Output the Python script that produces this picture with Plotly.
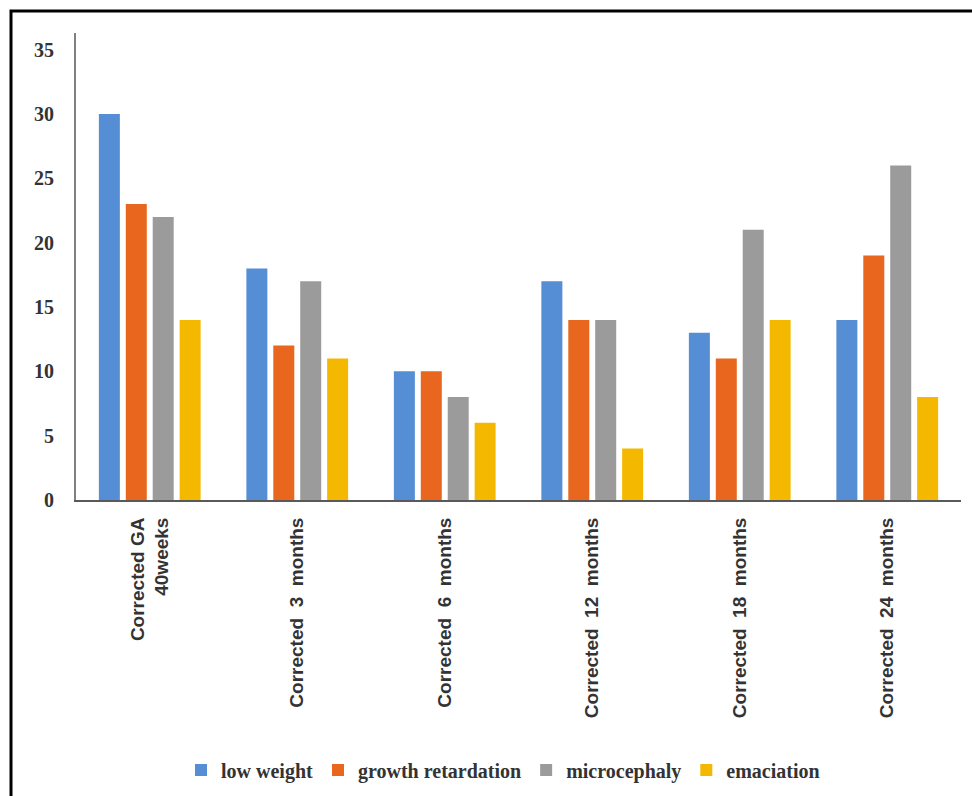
import plotly.graph_objects as go

# Follow-up time points (x categories)
categories = [
    "Corrected GA<br>40weeks",
    "Corrected  3  months",
    "Corrected  6  months",
    "Corrected  12  months",
    "Corrected  18  months",
    "Corrected  24  months",
]

# Counts per outcome at each time point
low_weight = [30, 18, 10, 17, 13, 14]
growth_retardation = [23, 12, 10, 14, 11, 19]
microcephaly = [22, 17, 8, 14, 21, 26]
emaciation = [14, 11, 6, 4, 14, 8]

series_names = ["low weight", "growth retardation", "microcephaly", "emaciation"]
series_values = [low_weight, growth_retardation, microcephaly, emaciation]
colors = ["#558ED5", "#E8661E", "#9B9B9B", "#F5B800"]

y_ticks = [0, 5, 10, 15, 20, 25, 30, 35]

fig = go.Figure()
for name, vals, col in zip(series_names, series_values, colors):
    fig.add_trace(go.Bar(x=categories, y=vals, name=name, marker=dict(color=col, line=dict(width=0))))

W, H = 972, 796
ml, mr, mt, mb = 76, W - 961, 33, H - 500
pw, ph = W - ml - mr, H - mt - mb


def px_to_paper_x(px):
    return (px - ml) / pw


def px_to_paper_y(py):
    return (H - mb - py) / ph


fig.update_layout(
    width=W,
    height=H,
    margin=dict(l=ml, r=mr, t=mt, b=mb, autoexpand=False),
    paper_bgcolor="white",
    plot_bgcolor="white",
    barmode="group",
    bargap=0.27,
    bargroupgap=0.22,
    showlegend=True,
    legend=dict(
        orientation="h",
        x=px_to_paper_x(503),
        xanchor="center",
        y=px_to_paper_y(770),
        yanchor="middle",
        font=dict(family="Liberation Serif", size=20, color="#333333", weight="bold"),
        itemwidth=30,
        tracegroupgap=0,
    ),
    xaxis=dict(
        showgrid=False,
        showline=True,
        linecolor="#595959",
        linewidth=2,
        ticks="",
        tickangle=-90,
        tickfont=dict(family="Liberation Sans", size=19, color="#333333", weight="bold"),
        ticklabelstandoff=8,
    ),
    yaxis=dict(
        range=[0, 36.3],
        tickvals=y_ticks,
        showgrid=False,
        zeroline=False,
        showline=True,
        linecolor="#808080",
        linewidth=2,
        ticks="",
        tickfont=dict(family="Liberation Serif", size=20, color="#333333", weight="bold"),
        ticklabelstandoff=16,
    ),
    shapes=[
        dict(
            type="rect",
            xref="paper",
            yref="paper",
            x0=px_to_paper_x(11),
            x1=px_to_paper_x(990),
            y0=px_to_paper_y(820),
            y1=px_to_paper_y(11),
            line=dict(color="black", width=3),
            fillcolor="rgba(0,0,0,0)",
            layer="above",
        )
    ],
)

fig.write_html("out.html")
